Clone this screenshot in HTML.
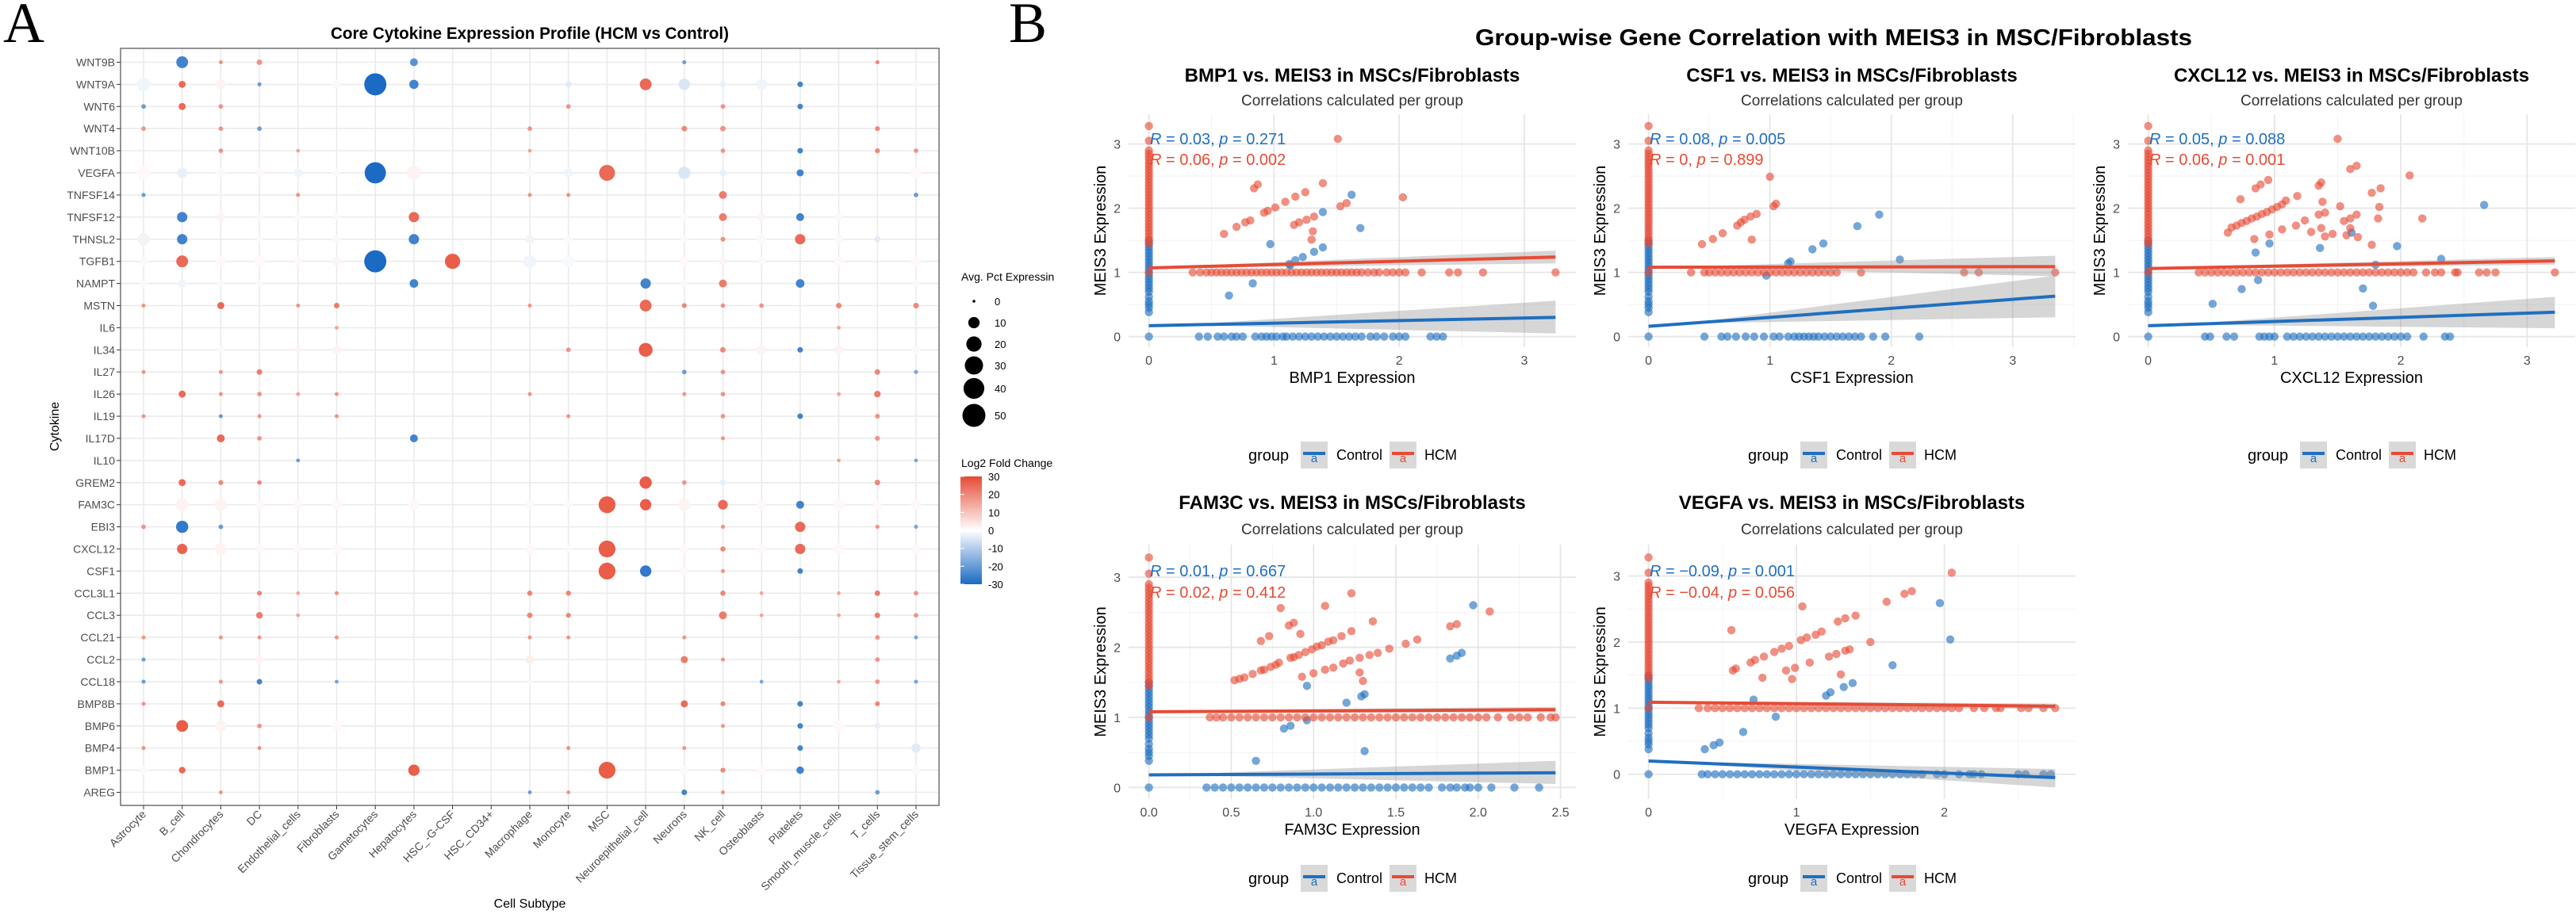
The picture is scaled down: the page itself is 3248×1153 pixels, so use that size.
<!DOCTYPE html>
<html>
<head>
<meta charset="utf-8">
<style>
  html, body { margin: 0; padding: 0; background: #ffffff; }
  svg { display: block; font-family: "Liberation Sans", Arial, sans-serif; }
</style>
</head>
<body>
<svg id="fig" xmlns="http://www.w3.org/2000/svg" width="3248" height="1153" viewBox="0 0 3248 1153">
  <rect x="0" y="0" width="3248" height="1153" fill="#ffffff"/>
  <text x="4" y="53" font-family="Liberation Serif, serif" font-size="72" fill="#000">A</text>
  <text x="1272" y="53" font-family="Liberation Serif, serif" font-size="72" fill="#000">B</text>
  <text x="668" y="49" text-anchor="middle" font-size="21" font-weight="bold" textLength="502" lengthAdjust="spacingAndGlyphs" fill="#000">Core Cytokine Expression Profile (HCM vs Control)</text>
  <text x="2312" y="57" text-anchor="middle" font-size="29" font-weight="bold" textLength="904" lengthAdjust="spacingAndGlyphs" fill="#000">Group-wise Gene Correlation with MEIS3 in MSC/Fibroblasts</text>
  <text x="668" y="1145" text-anchor="middle" font-size="16" fill="#000">Cell Subtype</text>
  <text x="0" y="0" transform="translate(74,538) rotate(-90)" text-anchor="middle" font-size="16" fill="#000">Cytokine</text>
  <text x="1212" y="354" font-size="14" fill="#000">Avg. Pct Expressin</text>
  <text x="1212" y="589" font-size="14" fill="#000">Log2 Fold Change</text>
  <defs>
    <linearGradient id="lfcGrad" x1="0" y1="0" x2="0" y2="1">
      <stop offset="0" stop-color="#E64B35"/>
      <stop offset="0.5" stop-color="#ffffff"/>
      <stop offset="1" stop-color="#1B6AC4"/>
    </linearGradient>
  </defs>
  <rect x="1211" y="601" width="27" height="136" fill="url(#lfcGrad)"/>
</svg>
<script>
// ---------------- Panel A data ----------------
const cytokines = ['WNT9B','WNT9A','WNT6','WNT4','WNT10B','VEGFA','TNFSF14','TNFSF12','THNSL2','TGFB1','NAMPT','MSTN','IL6','IL34','IL27','IL26','IL19','IL17D','IL10','GREM2','FAM3C','EBI3','CXCL12','CSF1','CCL3L1','CCL3','CCL21','CCL2','CCL18','BMP8B','BMP6','BMP4','BMP1','AREG'];
const cellTypes = ['Astrocyte','B_cell','Chondrocytes','DC','Endothelial_cells','Fibroblasts','Gametocytes','Hepatocytes','HSC_-G-CSF','HSC_CD34+','Macrophage','Monocyte','MSC','Neuroepithelial_cell','Neurons','NK_cell','Osteoblasts','Platelets','Smooth_muscle_cells','T_cells','Tissue_stem_cells'];
const dotCells = [
 [1,2,3,7,14,19],
 [0,1,2,3,5,6,7,11,13,14,15,16,17,20],
 [0,1,2,11,15,17],
 [0,2,3,10,14,15,19],
 [2,4,10,15,17,19,20],
 [0,1,2,3,4,5,6,7,10,11,12,14,15,17,20],
 [0,2,4,10,11,15,20],
 [1,2,3,4,5,7,14,15,16,17,18],
 [0,1,3,4,5,7,10,11,14,15,16,17,18,19],
 [0,1,2,3,4,5,6,8,10,11,14,15,16,18,20],
 [0,1,2,3,7,13,14,15,17,20],
 [0,2,4,5,10,13,14,15,16,18,20],
 [5,18],
 [2,4,5,11,13,15,16,17,18,20],
 [0,2,3,14,15,19,20],
 [1,2,3,4,5,10,14,15,18,19],
 [0,2,3,5,11,15,17,19],
 [2,3,7,15,19],
 [4,18,20],
 [1,2,3,13,14,15,19],
 [1,2,3,4,5,7,10,11,12,13,14,15,16,17,18,19,20],
 [0,1,2,15,17,19,20],
 [1,2,3,4,5,10,11,12,14,15,16,17,18,20],
 [12,13,14,15,17],
 [3,4,5,10,11,15,16,18,19,20],
 [3,4,10,11,15,16,18,19,20],
 [0,2,3,5,10,11,14,19,20],
 [0,3,10,14,15,19],
 [0,2,3,5,10,16,18,19,20],
 [0,2,14,15,17,19],
 [1,2,3,5,15,17,18,19],
 [0,3,11,14,17,20],
 [0,1,7,12,14,15,16,17,20],
 [2,10,11,14,15,19]
];
const dotPcts = [
 [11,0.5,1.5,4,0.5,0.5],
 [14,3,8,0.5,6,46,6,2,11,10,2,10,1.5,3],
 [0.8,3,0.8,0.8,0.8,1.5],
 [0.8,0.8,0.8,0.8,1.5,1.5,1],
 [0.8,0.4,0.4,0.8,1.5,1,0.8],
 [16,8,6,5,6,4,42,18,5,6,22,12,3,3,10],
 [0.5,1,0.5,0.5,0.5,4,0.8],
 [8,5,4,3,3,8,4,4,4,4,4],
 [12,8,3,2,5,8,5,4,4,1,8,8,5,2],
 [5,11,8,10,5,5,46,20,14,12,6,4,4,6,8],
 [4,5,3,3,5,8,3,4,5,3],
 [0.5,3,0.5,1.5,0.5,11,1,0.8,0.8,1.5,1.5],
 [0.4,0.4],
 [3,3,5,0.8,16,1.5,6,1.5,5,4],
 [0.5,0.5,1.5,0.8,0.8,1.5,0.5],
 [3,0.5,0.8,0.5,0.5,0.5,0.5,0.8,0.5,2.5],
 [0.5,0.5,0.5,0.5,0.5,0.8,1.5,1],
 [4,0.8,4,0.5,1],
 [0.4,0.4,0.4],
 [3,1,0.8,12,0.8,2,1.5],
 [14,12,5,6,8,10,5,4,25,10,12,7,6,4,10,6,8],
 [0.8,12,0.8,0.5,8,0.5,0.5],
 [8,12,5,6,8,8,4,25,6,1.2,6,8,10,6],
 [25,10,5,0.5,1.5],
 [1,0.4,0.5,1.2,1.2,1.2,0.4,0.4,1.5,0.8],
 [2.5,0.4,1.5,1,4,0.4,0.4,1.5,0.8],
 [0.5,0.5,0.5,0.5,0.5,0.5,0.5,0.8,0.5],
 [0.5,3,5,3,0.5,0.8],
 [0.5,0.5,1.5,0.4,2,0.4,0.4,0.8,0.5],
 [0.5,3,3,1,1.5,1],
 [11,10,0.8,8,0.5,1.5,10,2],
 [0.5,0.5,0.5,0.5,1.5,6],
 [5,2.5,10,25,5,1,6,3.5,5],
 [0.4,0.4,0.4,1.5,0.5,0.8]
];
const dotLfcs = [
 [-25,18,18,-22,-20,20],
 [-2,25,2,-20,1,-30,-25,-4,25,-5,-3,-2,-25,-1],
 [-20,25,18,18,18,-25],
 [18,18,-20,18,20,18,20],
 [18,15,15,18,-25,20,18],
 [1,-3,1,1,-2,1,-30,2,-1,-2,25,-5,-3,-25,1],
 [-20,-2,18,18,18,22,-20],
 [-25,2,-1,1,1,25,1,22,2,-25,1],
 [-2,-25,-1,-2,1,-25,-2,1,1,18,1,25,1,-4],
 [1,25,1,1,1,2,-30,27,-2,-1,1,2,1,1,1],
 [1,-2,1,1,-25,-25,1,22,-25,1],
 [18,25,18,22,18,25,20,18,18,20,20],
 [15,15],
 [1,2,2,18,27,20,2,-25,2,1],
 [18,18,22,-20,18,20,-18],
 [25,18,18,15,18,18,18,18,15,22],
 [18,-20,18,18,18,18,-25,18],
 [25,18,-25,18,18],
 [-20,15,-18],
 [25,20,20,27,18,-3,20],
 [2,2,1,1,1,1,1,1,27,27,2,25,1,-25,1,1,1],
 [18,-27,-20,18,25,18,-18],
 [26,2,1,1,1,1,1,27,1,20,1,25,1,1],
 [27,-27,1,18,-25],
 [20,15,18,20,20,20,15,15,22,18],
 [22,15,20,20,22,15,15,22,18],
 [18,18,18,18,18,18,18,18,-18],
 [-20,2,3,22,18,18],
 [-20,18,-25,-18,-1,-18,15,18,-18],
 [18,25,25,20,-25,20],
 [27,2,18,1,18,-25,1,-3],
 [18,18,18,18,-25,-4],
 [1,25,27,27,1,20,1,-25,1],
 [18,-20,18,-25,18,-20]
];
const sizeLegendValues = [0,10,20,30,40,50];
const colorLegendTicks = [30,20,10,0,-10,-20,-30];

// ---------------- Panel B data ----------------
const panelGenes = ['BMP1','CSF1','CXCL12','FAM3C','VEGFA'];
const ctlR = ['0.03','0.08','0.05','0.01','\u22120.09'];
const ctlP = ['0.271','0.005','0.088','0.667','0.001'];
const hcmR = ['0.06','0','0.06','0.02','\u22120.04'];
const hcmP = ['0.002','0.899','0.001','0.412','0.056'];
const xMaxData = [3.25,3.35,3.22,2.47,2.75];
const yMinData = [0,0,0,0,-0.2];
const yMaxData = [3.3,3.3,3.3,3.3,3.3];
const xTicks = [[0,1,2,3],[0,1,2,3],[0,1,2,3],[0,0.5,1,1.5,2,2.5],[0,1,2]];
const yTicks = [0,1,2,3];
const hcmZeroY = [1.0,1.45,1.5,1.55,1.6,1.65,1.7,1.75,1.8,1.85,1.9,1.95,2.0,2.05,2.1,2.15,2.2,2.25,2.3,2.35,2.4,2.45,2.5,2.55,2.6,2.65,2.7,2.75,2.8,2.85,2.9,3.05,3.28];
const ctlZeroY = [0,0.38,0.45,0.5,0.55,0.62,0.7,0.75,0.8,0.85,0.9,0.95,1.0,1.05,1.1,1.15,1.2,1.25,1.3,1.35,1.4,1.45,1.5];
const hcmLevel = 1;
const ctlLevel = 0;
const hcmX = [
 [1.51,1.39,0.87,0.84,1.25,2.03,1.17,1.09,1.01,0.92,0.95,1.58,1.53,0.81,0.77,0.70,0.60,1.32,1.26,1.20,1.16,1.31,1.30],
 [1.0,1.05,1.03,0.89,0.84,0.79,0.76,0.73,0.61,0.53,0.44,0.85],
 [1.50,2.07,1.65,1.60,0.95,0.89,0.85,1.37,1.35,1.84,1.77,0.73,1.18,1.38,1.52,1.83,0.66,0.7,0.74,0.78,0.82,0.86,0.9,0.94,0.98,1.02,1.06,1.09,2.17,1.82,1.65,1.60,1.55,1.24,1.35,1.40,1.17,1.06,0.96,0.84,0.63,1.29,1.46,1.40,1.37,1.60,1.66,1.77,1.57],
 [1.23,0.80,1.07,2.07,1.36,1.87,1.83,0.88,0.85,0.92,0.68,0.73,1.23,0.52,0.55,0.58,0.63,0.68,0.70,0.74,0.77,0.79,0.86,0.88,0.91,0.95,0.99,1.02,1.05,1.09,1.12,1.17,0.93,1.0,1.07,1.12,1.18,1.22,1.28,1.34,1.39,1.46,1.56,1.63,1.28,1.30],
 [2.05,1.73,1.78,1.61,1.04,1.40,1.28,1.33,0.56,1.50,1.03,1.07,1.13,1.17,0.95,0.90,0.85,0.78,0.72,0.69,0.59,0.57,1.22,1.27,1.33,1.36,0.93,0.99,1.09,0.77,0.97,1.30]
];
const hcmY = [
 [3.08,2.39,2.37,2.31,2.25,2.17,2.18,2.10,2.01,1.93,1.96,2.08,2.03,1.81,1.78,1.71,1.60,1.87,1.82,1.78,1.74,1.64,1.51],
 [2.49,2.07,2.03,1.91,1.87,1.82,1.78,1.73,1.61,1.52,1.44,1.51],
 [3.08,2.51,2.66,2.61,2.44,2.37,2.31,2.40,2.35,2.31,2.24,2.14,2.19,2.10,2.03,2.02,1.70,1.73,1.77,1.80,1.84,1.87,1.91,1.94,1.98,2.02,2.06,2.12,1.84,1.84,1.90,1.84,1.80,1.81,1.90,1.93,1.73,1.67,1.59,1.52,1.62,1.63,1.60,1.56,1.69,1.69,1.55,1.43,1.58],
 [2.77,2.56,2.59,2.51,2.37,2.33,2.30,2.35,2.31,2.19,2.09,2.16,2.23,1.53,1.55,1.57,1.62,1.67,1.68,1.72,1.75,1.78,1.85,1.86,1.89,1.93,1.97,2.01,2.03,2.08,2.10,2.16,1.58,1.63,1.68,1.71,1.77,1.81,1.85,1.89,1.92,1.98,2.05,2.11,1.64,1.52],
 [3.05,2.73,2.77,2.61,2.54,2.40,2.31,2.36,2.18,2.0,2.03,2.07,2.11,2.16,1.94,1.90,1.85,1.78,1.73,1.69,1.60,1.57,1.78,1.82,1.87,1.89,1.57,1.61,1.69,1.46,1.44,1.51]
];
const hcmFlatX = [
 [0.35,0.41,0.46,0.5,0.54,0.58,0.62,0.66,0.7,0.74,0.78,0.82,0.86,0.9,0.94,0.98,1.02,1.06,1.1,1.14,1.18,1.22,1.26,1.3,1.34,1.38,1.42,1.46,1.5,1.54,1.58,1.62,1.66,1.7,1.75,1.8,1.84,1.9,1.95,2.0,2.05,2.18,2.4,2.47,2.67,3.25],
 [0.35,0.46,0.5,0.55,0.6,0.65,0.7,0.75,0.8,0.85,0.9,0.95,1.0,1.05,1.1,1.15,1.2,1.25,1.3,1.35,1.4,1.45,1.5,1.55,1.75,2.6,2.72,3.35],
 [0.4,0.45,0.5,0.55,0.6,0.65,0.7,0.75,0.8,0.85,0.9,0.95,1.0,1.05,1.1,1.15,1.2,1.25,1.3,1.35,1.4,1.45,1.5,1.55,1.6,1.65,1.7,1.75,1.8,1.85,1.9,1.95,2.0,2.05,2.1,2.2,2.27,2.32,2.43,2.45,2.62,2.68,2.75,3.22],
 [0.37,0.41,0.45,0.5,0.55,0.6,0.65,0.7,0.75,0.8,0.85,0.9,0.95,1.0,1.05,1.1,1.15,1.2,1.25,1.3,1.35,1.4,1.45,1.5,1.55,1.6,1.65,1.7,1.75,1.8,1.85,1.9,1.95,2.0,2.05,2.12,2.2,2.25,2.3,2.38,2.44,2.47],
 [0.34,0.4,0.45,0.5,0.55,0.6,0.65,0.7,0.75,0.8,0.85,0.9,0.95,1.0,1.05,1.1,1.15,1.2,1.25,1.3,1.35,1.4,1.45,1.5,1.55,1.6,1.65,1.7,1.75,1.8,1.85,1.9,1.95,2.0,2.05,2.1,2.2,2.27,2.35,2.38,2.52,2.57,2.67,2.75]
];
const ctlX = [
 [1.62,1.39,1.69,0.97,1.39,1.32,1.23,1.17,1.12,0.83,0.64,1.13],
 [1.9,1.72,1.44,1.35,1.17,2.07,0.97,1.15],
 [2.66,0.96,0.85,1.36,1.97,1.61,2.32,1.80,0.87,0.74,1.70,0.51,1.78],
 [1.97,1.90,1.87,1.83,0.96,1.31,1.29,1.20,0.86,0.82,0.96,1.31,0.65],
 [1.97,2.04,1.65,1.38,1.32,1.23,1.20,0.71,0.86,0.64,0.48,0.44,0.38]
];
const ctlY = [
 [2.21,1.94,1.69,1.44,1.39,1.32,1.24,1.19,1.13,0.83,0.64,1.11],
 [1.9,1.72,1.45,1.36,1.17,1.2,0.95,1.14],
 [2.05,1.45,1.31,1.38,1.41,1.62,1.21,1.12,0.88,0.74,0.75,0.51,0.48],
 [2.60,1.92,1.88,1.84,1.45,1.33,1.30,1.21,0.88,0.84,0.96,0.52,0.38],
 [2.59,2.04,1.65,1.38,1.32,1.24,1.19,1.13,0.87,0.64,0.48,0.44,0.38]
];
const ctlFlatX = [
 [0.4,0.47,0.55,0.6,0.66,0.7,0.75,0.85,0.9,0.94,0.98,1.02,1.07,1.1,1.15,1.2,1.25,1.3,1.35,1.4,1.45,1.5,1.55,1.6,1.65,1.7,1.77,1.82,1.88,1.95,2.0,2.05,2.25,2.3,2.35],
 [0.46,0.6,0.65,0.72,0.8,0.87,0.95,1.03,1.08,1.15,1.2,1.24,1.28,1.32,1.36,1.4,1.45,1.5,1.55,1.6,1.65,1.7,1.75,1.85,1.95,2.23],
 [0.45,0.49,0.62,0.68,0.88,0.92,0.96,1.0,1.1,1.15,1.2,1.25,1.3,1.35,1.4,1.45,1.5,1.55,1.6,1.65,1.7,1.75,1.8,1.85,1.9,1.95,2.0,2.05,2.18,2.35,2.39],
 [0.35,0.4,0.45,0.5,0.55,0.6,0.65,0.7,0.75,0.8,0.85,0.9,0.95,1.0,1.05,1.1,1.15,1.2,1.25,1.3,1.35,1.4,1.45,1.5,1.55,1.6,1.65,1.7,1.78,1.83,1.87,1.92,1.95,2.0,2.08,2.22,2.37],
 [0.36,0.4,0.45,0.5,0.55,0.6,0.65,0.7,0.75,0.8,0.85,0.9,0.95,1.0,1.05,1.1,1.15,1.2,1.25,1.3,1.35,1.4,1.45,1.5,1.55,1.6,1.65,1.7,1.75,1.8,1.85,1.95,2.0,2.1,2.17,2.2,2.25,2.5,2.55,2.67,2.72]
];
const hcmFitStart = [1.07,1.08,1.06,1.08,1.09];
const hcmFitEnd   = [1.24,1.09,1.18,1.11,1.03];
const ctlFitStart = [0.17,0.16,0.17,0.18,0.20];
const ctlFitEnd   = [0.30,0.63,0.38,0.21,-0.05];
const hcmBandLo = [1.14,0.94,1.12,1.07,0.99];
const hcmBandHi = [1.34,1.26,1.24,1.15,1.07];
const ctlBandLo = [0.05,0.30,0.13,0.05,-0.20];
const ctlBandHi = [0.56,0.95,0.62,0.38,0.08];

// ---------------- helpers ----------------
const NS = 'http://www.w3.org/2000/svg';
const svg = document.getElementById('fig');
function mk(tag, attrs, parent) {
  const e = document.createElementNS(NS, tag);
  for (const k in attrs) e.setAttribute(k, attrs[k]);
  (parent || svg).appendChild(e);
  return e;
}
function txt(str, attrs, parent) {
  const e = mk('text', attrs, parent);
  e.textContent = str;
  return e;
}
function mixColor(c, a) {
  const r = Math.round(255 + (c[0] - 255) * a);
  const g = Math.round(255 + (c[1] - 255) * a);
  const b = Math.round(255 + (c[2] - 255) * a);
  return 'rgb(' + r + ',' + g + ',' + b + ')';
}
function lfcColor(v) {
  let t = Math.max(-1, Math.min(1, v / 30));
  const base = t >= 0 ? [230, 75, 53] : [27, 106, 196];
  return mixColor(base, Math.abs(t));
}

// ---------------- Panel A ----------------
const A_LEFT = 152, A_RIGHT = 1184, A_TOP = 61, A_BOTTOM = 1016;
const ax = j => 181 + j * ((1155 - 181) / (cellTypes.length - 1));
const ay = i => 78.5 + i * ((999.5 - 78.5) / (cytokines.length - 1));
const rSize = p => 1.2 + 13.3 * Math.sqrt(p / 50);

const gA = mk('g', {});



const plotBgA = mk('rect', {x: A_LEFT, y: A_TOP, width: A_RIGHT - A_LEFT, height: A_BOTTOM - A_TOP, fill: '#ffffff'}, gA);



cellTypes.forEach((c, j) => {
  const gl = mk('line', {x1: ax(j), x2: ax(j), y1: A_TOP, y2: A_BOTTOM, stroke: '#ebebeb', 'stroke-width': 1.6}, gA);
  
  
  const tk = mk('line', {x1: ax(j), x2: ax(j), y1: A_BOTTOM, y2: A_BOTTOM + 5, stroke: '#333', 'stroke-width': 1}, gA);
  
  
  const lb = txt(c, {x: 0, y: 0, transform: 'translate(' + (ax(j) + 4) + ',' + (A_BOTTOM + 12) + ') rotate(-45)', 'text-anchor': 'end', 'font-size': 14, fill: '#4d4d4d'}, gA);
  
  
});
cytokines.forEach((c, i) => {
  const gl = mk('line', {x1: A_LEFT, x2: A_RIGHT, y1: ay(i), y2: ay(i), stroke: '#ebebeb', 'stroke-width': 1.6}, gA);
  
  
  const tk = mk('line', {x1: A_LEFT - 5, x2: A_LEFT, y1: ay(i), y2: ay(i), stroke: '#333', 'stroke-width': 1}, gA);
  
  
  const lb = txt(c, {x: A_LEFT - 7, y: ay(i) + 5, 'text-anchor': 'end', 'font-size': 14, fill: '#4d4d4d'}, gA);
  
  
});
dotCells.forEach((cells, i) => {
  cells.forEach((j, k) => {
    const d = mk('circle', {cx: ax(j), cy: ay(i), r: rSize(dotPcts[i][k]), fill: lfcColor(dotLfcs[i][k])}, gA);
    
    
  });
});
const borderA = mk('rect', {x: A_LEFT, y: A_TOP, width: A_RIGHT - A_LEFT, height: A_BOTTOM - A_TOP, fill: 'none', stroke: '#4d4d4d', 'stroke-width': 1.2}, gA);



const sizeLegY = [380, 407, 434, 461, 490, 524];
sizeLegendValues.forEach((v, k) => {
  const c = mk('circle', {cx: 1228, cy: sizeLegY[k], r: v === 0 ? 1.8 : rSize(v), fill: '#000'});
  
  
  const t = txt(String(v), {x: 1254, y: sizeLegY[k] + 5, 'font-size': 13, fill: '#000'});
  
  
});
colorLegendTicks.forEach((v) => {
  const yy = 669 - v / 30 * 68;
  const t = txt(String(v), {x: 1246, y: yy + 5, 'font-size': 13, fill: '#000'});
  
  
  const tk = mk('line', {x1: 1211, x2: 1216, y1: yy, y2: yy, stroke: '#fff', 'stroke-width': 1});
  
  
});

// ---------------- Panel B ----------------
const HCM_COL = '#E64B35', CTL_COL = '#1F6FC0';
const panelCol = [0, 1, 2, 0, 1];
const panelRow = [0, 0, 0, 1, 1];
const rowTop = [144, 687], rowBottom = [438, 1008];
const rowTitleY = [103, 642], rowSubY = [133, 674], rowLegendY = [574, 1108];
const PLOT_W = 564;
const PT_R = 5.2;

panelGenes.forEach((gene, p) => {
  const left = 1423 + 630 * panelCol[p];
  const right = left + PLOT_W;
  const r = panelRow[p];
  const top = rowTop[r], bottom = rowBottom[r];
  const xLo = -0.05 * xMaxData[p], xHi = 1.05 * xMaxData[p];
  const yRange = yMaxData[p] - yMinData[p];
  const yLo = yMinData[p] - 0.05 * yRange, yHi = yMaxData[p] + 0.05 * yRange;
  const sx = v => left + (v - xLo) / (xHi - xLo) * PLOT_W;
  const sy = v => bottom - (v - yLo) / (yHi - yLo) * (bottom - top);
  const cx = left + PLOT_W / 2;

  const g = mk('g', {});
  
  

  const ttl = txt(gene + ' vs. MEIS3 in MSCs/Fibroblasts', {x: cx, y: rowTitleY[r], 'text-anchor': 'middle', 'font-size': 24, 'font-weight': 'bold', fill: '#000'}, g);
  
  
  const sub = txt('Correlations calculated per group', {x: cx, y: rowSubY[r], 'text-anchor': 'middle', 'font-size': 19, fill: '#333'}, g);
  
  

  const xt = xTicks[p];
  const step = xt[1] - xt[0];
  for (let v = xt[0] - step / 2; v <= xHi; v += step) {
    if (v < xLo) continue;
    const m = mk('line', {x1: sx(v), x2: sx(v), y1: top, y2: bottom, stroke: '#f3f3f3', 'stroke-width': 1}, g);
    
    
  }
  for (let v = -0.5; v <= yHi; v += 1) {
    if (v < yLo) continue;
    const m = mk('line', {x1: left, x2: right, y1: sy(v), y2: sy(v), stroke: '#f3f3f3', 'stroke-width': 1}, g);
    
    
  }
  xt.forEach(v => {
    const gl = mk('line', {x1: sx(v), x2: sx(v), y1: top, y2: bottom, stroke: '#e6e6e6', 'stroke-width': 1.8}, g);
    
    
    const lb = txt(p === 3 ? v.toFixed(1) : String(v), {x: sx(v), y: bottom + 22, 'text-anchor': 'middle', 'font-size': 16, fill: '#4d4d4d'}, g);
    
    
  });
  yTicks.forEach(v => {
    const gl = mk('line', {x1: left, x2: right, y1: sy(v), y2: sy(v), stroke: '#e6e6e6', 'stroke-width': 1.8}, g);
    
    
    const lb = txt(String(v), {x: left - 10, y: sy(v) + 6, 'text-anchor': 'end', 'font-size': 16, fill: '#4d4d4d'}, g);
    
    
  });

  const ctlG = mk('g', {'fill-opacity': 0.62, fill: CTL_COL}, g);
  
  
  ctlZeroY.forEach(y => {
    const c = mk('circle', {cx: sx(0), cy: sy(y), r: PT_R}, ctlG);
    
    
  });
  ctlFlatX[p].forEach(x => {
    const c = mk('circle', {cx: sx(x), cy: sy(ctlLevel), r: PT_R}, ctlG);
    
    
  });
  ctlX[p].forEach((x, k) => {
    const c = mk('circle', {cx: sx(x), cy: sy(ctlY[p][k]), r: PT_R}, ctlG);
    
    
  });
  const hcmG = mk('g', {'fill-opacity': 0.62, fill: HCM_COL}, g);
  
  
  hcmZeroY.forEach(y => {
    const c = mk('circle', {cx: sx(0), cy: sy(y), r: PT_R}, hcmG);
    
    
  });
  hcmFlatX[p].forEach(x => {
    const c = mk('circle', {cx: sx(x), cy: sy(hcmLevel), r: PT_R}, hcmG);
    
    
  });
  hcmX[p].forEach((x, k) => {
    const c = mk('circle', {cx: sx(x), cy: sy(hcmY[p][k]), r: PT_R}, hcmG);
    
    
  });

  const xe = xMaxData[p];
  function band(y0, lo, hi) {
    const mid = (lo + hi) / 2;
    const pts = [[0, y0 - 0.01], [xe * 0.15, y0 + (mid - y0) * 0.15 - 0.02], [xe, lo], [xe, hi], [xe * 0.15, y0 + (mid - y0) * 0.15 + 0.02], [0, y0 + 0.01]];
    return pts.map(q => sx(q[0]).toFixed(1) + ',' + sy(q[1]).toFixed(1)).join(' ');
  }
  const cb = mk('polygon', {points: band(ctlFitStart[p], ctlBandLo[p], ctlBandHi[p]), fill: '#999999', 'fill-opacity': 0.4}, g);
  
  
  const hb = mk('polygon', {points: band(hcmFitStart[p], hcmBandLo[p], hcmBandHi[p]), fill: '#999999', 'fill-opacity': 0.4}, g);
  
  
  const cl = mk('line', {x1: sx(0), y1: sy(ctlFitStart[p]), x2: sx(xe), y2: sy(ctlFitEnd[p]), stroke: CTL_COL, 'stroke-width': 4}, g);
  
  
  const hl = mk('line', {x1: sx(0), y1: sy(hcmFitStart[p]), x2: sx(xe), y2: sy(hcmFitEnd[p]), stroke: HCM_COL, 'stroke-width': 4}, g);
  
  

  function annot(R, P, y, col, name) {
    const t = mk('text', {x: left + 27, y: y, 'font-size': 20, fill: col}, g);
    
    
    const a = mk('tspan', {'font-style': 'italic'}, t); a.textContent = 'R';
    const b = mk('tspan', {}, t); b.textContent = ' = ' + R + ', ';
    const c = mk('tspan', {'font-style': 'italic'}, t); c.textContent = 'p';
    const d = mk('tspan', {}, t); d.textContent = ' = ' + P;
  }
  annot(ctlR[p], ctlP[p], top + 38 + r * 2, CTL_COL, 'control-correlation-label');
  annot(hcmR[p], hcmP[p], top + 64 + r * 3, HCM_COL, 'hcm-correlation-label');

  const xtl = txt(gene + ' Expression', {x: cx, y: bottom + 45, 'text-anchor': 'middle', 'font-size': 20, fill: '#000'}, g);
  
  
  const ytl = txt('MEIS3 Expression', {x: 0, y: 0, transform: 'translate(' + (left - 29) + ',' + ((top + bottom) / 2) + ') rotate(-90)', 'text-anchor': 'middle', 'font-size': 20, fill: '#000'}, g);
  
  

  const ly = rowLegendY[r];
  const lg = mk('g', {}, g);
  
  
  const gt = txt('group', {x: left + 151, y: ly + 7, 'font-size': 20, fill: '#000'}, lg);
  
  
  [[217, CTL_COL, 'Control', 262], [329, HCM_COL, 'HCM', 373]].forEach(e => {
    const bx = left + e[0];
    const box = mk('rect', {x: bx, y: ly - 17, width: 34, height: 34, fill: '#d9d9d9'}, lg);
    
    
    const ln = mk('line', {x1: bx + 3, x2: bx + 31, y1: ly - 2, y2: ly - 2, stroke: e[1], 'stroke-width': 4}, lg);
    
    
    const kt = txt('a', {x: bx + 17, y: ly + 9, 'text-anchor': 'middle', 'font-size': 15, fill: e[1]}, lg);
    
    
    const lt = txt(e[2], {x: left + e[3], y: ly + 6, 'font-size': 18, fill: '#000'}, lg);
    
    
  });
});
</script>
</body>
</html>
